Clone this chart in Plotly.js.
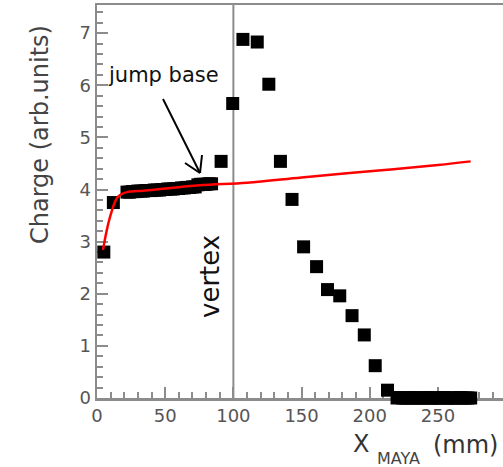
<!DOCTYPE html>
<html><head><meta charset="utf-8">
<script src="https://cdn.plot.ly/plotly-3.0.1.min.js"></script>
<style>html,body{margin:0;padding:0;background:#fff}#plot{width:503px;height:467px}</style>
</head><body><div id="plot"></div>
<script>
// Measured charge points (x in mm, charge in arb. units)
var dataX = [5, 12,
  22, 24, 26, 28, 30, 32, 34, 36, 38, 40, 42, 44, 46, 48, 50, 52, 54, 56, 58, 60, 62, 64, 66, 68, 70, 72, 74, 76, 78, 80, 82, 84,
  91, 99.5, 107, 117.5, 126, 134.5, 143, 151.5, 161, 169, 178, 187, 196, 204, 213,
  220, 222, 224, 226, 228, 230, 232, 234, 236, 238, 240, 242, 244, 246, 248, 250, 252, 254, 256, 258, 260, 262, 264, 266, 268, 270, 272, 274];
var dataY = [2.8, 3.75,
  3.95, 3.95, 3.96, 3.96, 3.97, 3.97, 3.97, 3.98, 3.98, 3.98, 3.99, 3.99, 3.99, 4.00, 4.00, 4.01, 4.01, 4.01, 4.02, 4.02, 4.03, 4.03, 4.04, 4.04, 4.05, 4.05, 4.09, 4.10, 4.10, 4.10, 4.11, 4.11,
  4.54, 5.65, 6.88, 6.83, 6.02, 4.54, 3.81, 2.9, 2.52, 2.08, 1.96, 1.58, 1.21, 0.62, 0.15,
  0.0, 0.01, 0.0, 0.0, 0.0, 0.0, 0.01, 0.0, 0.0, 0.0, 0.0, 0.01, 0.0, 0.0, 0.0, 0.0, 0.0, 0.01, 0.0, 0.0, 0.0, 0.0, 0.0, 0.01, 0.0, 0.0, 0.0, 0.0];
// Fit curve
var fitX = [4.4, 5.5, 7, 9, 11, 13, 15, 18, 22, 30, 40, 75, 110, 150, 200, 250, 274];
var fitY = [2.84, 3.0, 3.2, 3.42, 3.6, 3.75, 3.85, 3.91, 3.95, 3.97, 3.99, 4.08, 4.13, 4.23, 4.35, 4.47, 4.54];
var xTickVals = [0, 50, 100, 150, 200, 250];
var yTickVals = [0, 1, 2, 3, 4, 5, 6, 7];
var vertexX = 100;

var L = 97, T = 5, W = 406, H = 393;
function px(x){ return (x - L) / W; }
function py(y){ return (T + H - y) / H; }
var xr = [0, 297.7], yr = [0, 7.54];
function dx(p){ return xr[0] + (p - L) / W * (xr[1] - xr[0]); }
function dy(p){ return yr[0] + (T + H - p) / H * (yr[1] - yr[0]); }

var traces = [
  {x: dataX, y: dataY, type: 'scatter', mode: 'markers', cliponaxis: false,
   marker: {symbol: 'square', size: 13, color: '#000', line: {width: 0}}, hoverinfo: 'none'},
  {x: fitX, y: fitY, type: 'scatter', mode: 'lines', line: {color: '#ff0000', width: 2.5, shape: 'spline'}, hoverinfo: 'none'}
];

var axisCommon = {
  showgrid: false, zeroline: false, showline: true, linecolor: '#8c8c8c', linewidth: 2.5,
  layer: 'below traces',
  ticks: 'inside', ticklen: 11, tickwidth: 2, tickcolor: '#8c8c8c',
  tickfont: {family: 'DejaVu Sans', size: 18, color: '#555'}
};

var layout = {
  width: 503, height: 467,
  margin: {l: L, r: 0, t: T, b: 467 - T - H},
  paper_bgcolor: '#fff', plot_bgcolor: '#fff',
  showlegend: false,
  xaxis: Object.assign({}, axisCommon, {range: xr, tickvals: xTickVals, mirror: true,
    minor: {dtick: 10, tick0: 0, ticks: 'inside', ticklen: 6, tickwidth: 2, tickcolor: '#8c8c8c'}}),
  yaxis: Object.assign({}, axisCommon, {range: yr, tickvals: yTickVals,
    minor: {dtick: 0.2, tick0: 0, ticks: 'inside', ticklen: 6, tickwidth: 2, tickcolor: '#8c8c8c'}}),
  shapes: [
    {type: 'line', xref: 'x', yref: 'paper', x0: vertexX, x1: vertexX, y0: 0, y1: 1, layer: 'below',
     line: {color: '#8c8c8c', width: 2}},
    {type: 'line', xref: 'x', yref: 'y', x0: dx(163), y0: dy(99), x1: dx(200), y1: dy(173), line: {color: '#000', width: 2}},
    {type: 'line', xref: 'x', yref: 'y', x0: dx(185), y0: dy(163), x1: dx(200), y1: dy(173), line: {color: '#000', width: 2}},
    {type: 'line', xref: 'x', yref: 'y', x0: dx(202), y0: dy(155), x1: dx(200), y1: dy(173), line: {color: '#000', width: 2}}
  ],
  annotations: [
    {text: 'Charge (arb.units)', xref: 'paper', yref: 'paper', x: px(40), y: py(135), textangle: -90,
     showarrow: false, xanchor: 'center', yanchor: 'middle', font: {family: 'DejaVu Sans', size: 24, color: '#444'}},
    {text: 'vertex', xref: 'paper', yref: 'paper', x: px(210), y: py(277), textangle: -90,
     showarrow: false, xanchor: 'center', yanchor: 'middle', font: {family: 'DejaVu Sans', size: 26, color: '#111'}},
    {text: 'jump base', xref: 'paper', yref: 'paper', x: px(106), y: py(75),
     showarrow: false, xanchor: 'left', yanchor: 'middle', font: {family: 'DejaVu Sans', size: 21, color: '#111'}},
    {text: 'X', xref: 'paper', yref: 'paper', x: px(361), y: py(444),
     showarrow: false, xanchor: 'center', yanchor: 'middle', font: {family: 'DejaVu Sans', size: 24, color: '#333'}},
    {text: 'MAYA', xref: 'paper', yref: 'paper', x: px(398), y: py(458),
     showarrow: false, xanchor: 'center', yanchor: 'middle', font: {family: 'DejaVu Sans', size: 16, color: '#444'}},
    {text: '(mm)', xref: 'paper', yref: 'paper', x: px(465), y: py(445),
     showarrow: false, xanchor: 'center', yanchor: 'middle', font: {family: 'DejaVu Sans', size: 24, color: '#333'}}
  ]
};

Plotly.newPlot('plot', traces, layout, {displayModeBar: false, staticPlot: true});
</script>
</body></html>
